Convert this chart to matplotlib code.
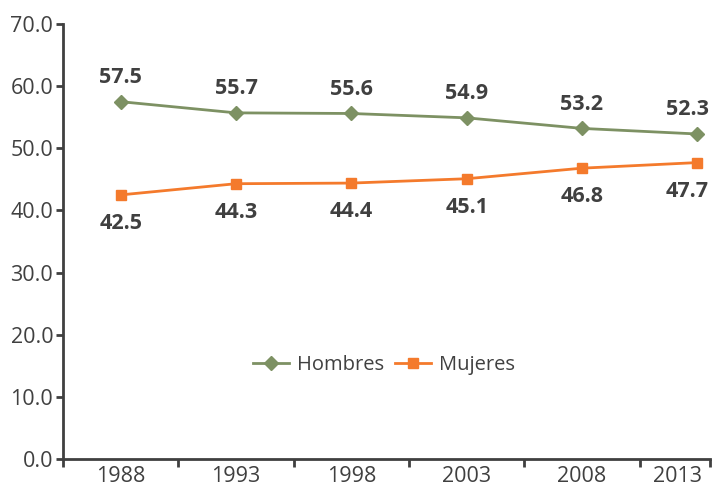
import matplotlib
matplotlib.use("Agg")
import matplotlib.pyplot as plt
import matplotlib.transforms as mtransforms
import numpy as np

years = ["1988", "1993", "1998", "2003", "2008", "2013"]
hombres = [57.5, 55.7, 55.6, 54.9, 53.2, 52.3]
mujeres = [42.5, 44.3, 44.4, 45.1, 46.8, 47.7]
yticks = [0, 10, 20, 30, 40, 50, 60, 70]

green = "#7D9163"
orange = "#F47A2C"
dark = "#404040"

plt.rcParams['font.family'] = ['Open Sans', 'DejaVu Sans']

fig = plt.figure(figsize=(7.13, 4.87), dpi=100)
ax = fig.add_axes([63/713, 28/487, 647/713, 435/487])

x = np.arange(len(years))
ax.plot(x, hombres, color=green, lw=2, marker='D', ms=7, label='Hombres')
ax.plot(x, mujeres, color=orange, lw=2, marker='s', ms=7, label='Mujeres')

n = len(years)
for i, (xi, v) in enumerate(zip(x, hombres)):
    dx = -7 if i == n - 1 else 0
    ax.annotate(f"{v:.1f}", (xi, v), xytext=(dx, 10), textcoords='offset points',
                ha='center', va='bottom', fontsize=15.5, fontweight='bold', color=dark)
for i, (xi, v) in enumerate(zip(x, mujeres)):
    dx = -7 if i == n - 1 else 0
    ax.annotate(f"{v:.1f}", (xi, v), xytext=(dx, -13), textcoords='offset points',
                ha='center', va='top', fontsize=15.5, fontweight='bold', color=dark)

ax.set_ylim(0, 70)
ax.set_xlim(-0.5, 5.11)
ax.set_yticks(yticks)
ax.set_yticklabels([f"{t:.1f}" for t in yticks])
ax.set_xticks(x)
ax.set_xticklabels(years)
ax.set_xticks(list(np.arange(-0.5, 5.0, 1.0)) + [5.11], minor=True)
ax.tick_params(axis='x', which='major', length=0, labelsize=15.5, labelcolor=dark, pad=5)
ax.tick_params(axis='x', which='minor', length=6, width=2, color=dark, direction='out')
ax.tick_params(axis='y', length=5, width=2, color=dark, labelsize=15.5, labelcolor=dark, pad=2)

lbls = ax.get_xticklabels()
last = lbls[-1]
last.set_horizontalalignment('right')
last.set_transform(last.get_transform() + mtransforms.ScaledTranslation(5/100, 0, fig.dpi_scale_trans))

for s in ['top', 'right']:
    ax.spines[s].set_visible(False)
for s in ['left', 'bottom']:
    ax.spines[s].set_color(dark)
    ax.spines[s].set_linewidth(2)

ax.legend(loc='center', bbox_to_anchor=(0.496, 0.216), ncol=2, frameon=False,
          fontsize=14.5, labelcolor=dark, handlelength=1.8, columnspacing=0.5, handletextpad=0.4)

fig.savefig("out.png", dpi=100)
